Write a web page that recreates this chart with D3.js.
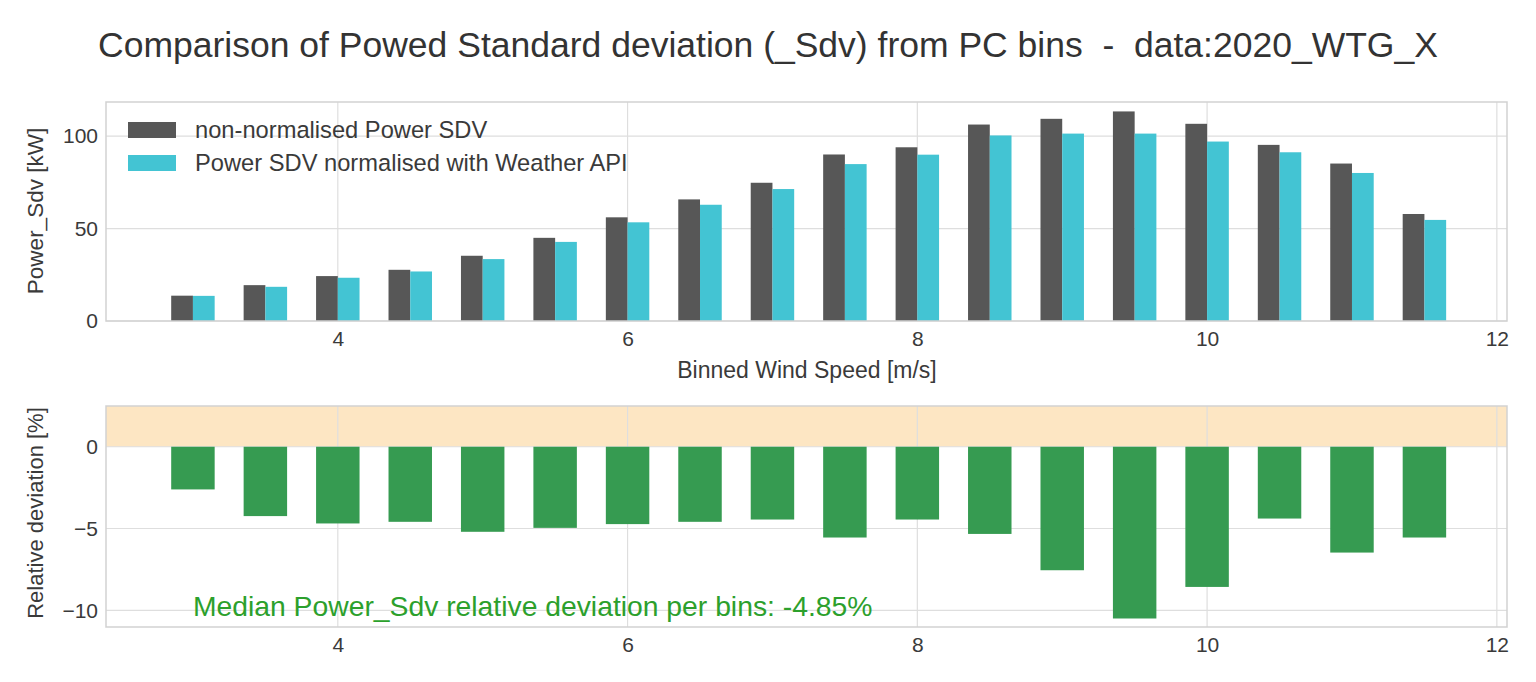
<!DOCTYPE html>
<html>
<head>
<meta charset="utf-8">
<script src="https://cdn.jsdelivr.net/npm/d3@7"></script>
<style>
  body { margin: 0; background: #fff; }
  svg { display: block; font-family: "Liberation Sans", Arial, sans-serif; }
  text { white-space: pre; }
</style>
</head>
<body>
<svg id="chart" width="1536" height="682"></svg>
<script>
const bins = [3, 3.5, 4, 4.5, 5, 5.5, 6, 6.5, 7, 7.5, 8, 8.5, 9, 9.5, 10, 10.5, 11, 11.5];
const sdvRaw = [13.7, 19.4, 24.3, 27.7, 35.3, 45.0, 56.1, 65.8, 74.8, 90.1, 94.0, 106.3, 109.4, 113.4, 106.7, 95.3, 85.2, 57.9];
const sdvNorm = [13.6, 18.5, 23.4, 26.8, 33.5, 42.8, 53.4, 62.9, 71.4, 84.9, 90.0, 100.4, 101.4, 101.4, 97.1, 91.3, 80.1, 54.7];
const relDev = [-2.61, -4.24, -4.69, -4.59, -5.2, -4.96, -4.73, -4.59, -4.45, -5.55, -4.45, -5.33, -7.55, -10.5, -8.57, -4.39, -6.47, -5.55];
const xTicks = [4, 6, 8, 10, 12];
const topYTicks = [0, 50, 100];
const botYTicks = [0, -5, -10];
const seriesNames = ["non-normalised Power SDV", "Power SDV normalised with Weather API"];
const titleText = "Comparison of Powed Standard deviation (_Sdv) from PC bins  -  data:2020_WTG_X";
const medianText = "Median Power_Sdv relative deviation per bins: -4.85%";

const C = { dark: "#575757", cyan: "#43c4d3", green: "#369b51", band: "#fde6c3", grid: "#dedede", frame: "#d2d2d2", text: "#3a3a3a" };
const FONT = "Liberation Sans, Arial, sans-serif";

const svg = d3.select("#chart");
const L = 106, R = 1507;
const x = d3.scaleLinear().domain([2.40, 12.07]).range([L, R]);
const yTop = d3.scaleLinear().domain([0, 118.5]).range([321, 102]);
const yBot = d3.scaleLinear().domain([-11.02, 2.49]).range([627, 406]);

svg.append("text").attr("x", 768).attr("y", 57).attr("text-anchor", "middle")
  .attr("font-size", 35.5).attr("fill", "#333").text(titleText);

function grid(y, yTicks) {
  const g = svg.append("g");
  g.selectAll("line.v").data(xTicks).join("line").attr("class", "v")
    .attr("x1", d => x(d)).attr("x2", d => x(d))
    .attr("y1", y.range()[1]).attr("y2", y.range()[0])
    .attr("stroke", C.grid).attr("stroke-width", 1.2);
  g.selectAll("line.h").data(yTicks).join("line").attr("class", "h")
    .attr("x1", L).attr("x2", R).attr("y1", d => y(d)).attr("y2", d => y(d))
    .attr("stroke", C.grid).attr("stroke-width", 1.2);
}

function frameAndAxes(y, yTicks, fmt) {
  svg.append("rect").attr("x", L).attr("y", y.range()[1])
    .attr("width", R - L).attr("height", y.range()[0] - y.range()[1])
    .attr("fill", "none").attr("stroke", C.frame).attr("stroke-width", 1.5);
  const ax = d3.axisBottom(x).tickValues(xTicks).tickSize(0).tickPadding(10).tickFormat(d3.format("d"));
  const gx = svg.append("g").attr("transform", `translate(0,${y.range()[0]})`).call(ax);
  gx.select(".domain").remove();
  gx.selectAll("text").attr("font-size", 21).attr("fill", C.text).attr("font-family", FONT);
  const ay = d3.axisLeft(y).tickValues(yTicks).tickSize(0).tickPadding(8).tickFormat(fmt);
  const gy = svg.append("g").attr("transform", `translate(${L},0)`).call(ay);
  gy.select(".domain").remove();
  gy.selectAll("text").attr("font-size", 21).attr("fill", C.text).attr("font-family", FONT);
}

// ---- top panel ----
grid(yTop, topYTicks);
const topG = svg.append("g");
topG.selectAll("rect.raw").data(bins).join("rect").attr("class", "raw")
  .attr("x", d => x(d - 0.15)).attr("width", x(0.15) - x(0))
  .attr("y", (d, i) => yTop(sdvRaw[i])).attr("height", (d, i) => yTop(0) - yTop(sdvRaw[i]))
  .attr("fill", C.dark);
topG.selectAll("rect.norm").data(bins).join("rect").attr("class", "norm")
  .attr("x", d => x(d)).attr("width", x(0.15) - x(0))
  .attr("y", (d, i) => yTop(sdvNorm[i])).attr("height", (d, i) => yTop(0) - yTop(sdvNorm[i]))
  .attr("fill", C.cyan);
frameAndAxes(yTop, topYTicks, d3.format("d"));

// legend
const leg = svg.append("g");
[C.dark, C.cyan].forEach((c, i) => {
  leg.append("rect").attr("x", 128).attr("y", 122 + i * 33).attr("width", 48).attr("height", 16).attr("fill", c);
  leg.append("text").attr("x", 195).attr("y", 138 + i * 33).attr("font-size", 23.7).attr("fill", C.text).text(seriesNames[i]);
});

svg.append("text").attr("x", 807).attr("y", 378).attr("text-anchor", "middle")
  .attr("font-size", 23).attr("fill", C.text).text("Binned Wind Speed [m/s]");
svg.append("text").attr("transform", "translate(43,211) rotate(-90)").attr("text-anchor", "middle")
  .attr("font-size", 22.5).attr("fill", C.text).text("Power_Sdv [kW]");

// ---- bottom panel ----
svg.append("rect").attr("x", L).attr("y", yBot(2.49)).attr("width", R - L)
  .attr("height", yBot(0) - yBot(2.49)).attr("fill", C.band);
grid(yBot, botYTicks);
svg.append("g").selectAll("rect").data(bins).join("rect")
  .attr("x", d => x(d - 0.15)).attr("width", x(0.3) - x(0))
  .attr("y", yBot(0)).attr("height", (d, i) => yBot(relDev[i]) - yBot(0))
  .attr("fill", C.green);
frameAndAxes(yBot, botYTicks, d => d3.format("d")(d).replace("-", "\u2212"));
svg.append("text").attr("transform", "translate(43,513) rotate(-90)").attr("text-anchor", "middle")
  .attr("font-size", 22).attr("fill", C.text).text("Relative deviation [%]");
svg.append("text").attr("x", x(3)).attr("y", yBot(-10) + 6)
  .attr("font-size", 28.3).attr("fill", "#2ca02c").text(medianText);
</script>
</body>
</html>
